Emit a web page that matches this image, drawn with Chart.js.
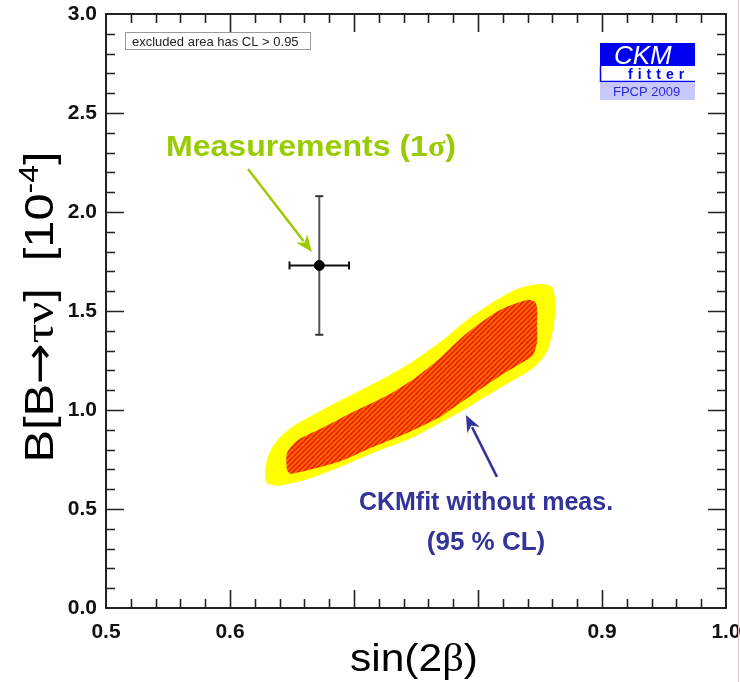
<!DOCTYPE html>
<html>
<head>
<meta charset="utf-8">
<script src="https://cdn.jsdelivr.net/npm/chart.js@4/dist/chart.umd.min.js"></script>
<style>
  body { margin: 0; background: #fff; }
  #wrap { width: 740px; height: 682px; }
</style>
</head>
<body>
<div id="wrap"><canvas id="chart" width="740" height="682"></canvas></div>
<script>
// measured point with its 1 sigma errors
const measX = 0.672, measXErr = 0.024;
const measY = 1.73, measYErr = 0.35;

// outer (yellow) contour of the fit
const outerX = [0.6387, 0.6298, 0.6282, 0.6306, 0.6363, 0.6500, 0.6742, 0.7008, 0.7274, 0.7492,
                0.7694, 0.7911, 0.8121, 0.8315, 0.8500, 0.8597, 0.8621, 0.8621, 0.8605, 0.8556,
                0.8444, 0.8177, 0.8016, 0.7911, 0.7694, 0.7427, 0.7153, 0.6887, 0.6605];
const outerY = [0.616, 0.631, 0.697, 0.763, 0.833, 0.914, 1.000, 1.086, 1.172, 1.253,
                1.343, 1.455, 1.545, 1.611, 1.636, 1.621, 1.566, 1.480, 1.404, 1.293,
                1.212, 1.111, 1.051, 1.010, 0.934, 0.848, 0.783, 0.712, 0.646];

// inner (hatched) contour
const innerX = [0.6484, 0.6460, 0.6460, 0.6548, 0.6742, 0.7008, 0.7274, 0.7492, 0.7694, 0.7911,
                0.8177, 0.8395, 0.8460, 0.8476, 0.8476, 0.8476, 0.8444, 0.8363, 0.8177, 0.7855,
                0.7694, 0.7427, 0.7153, 0.6871, 0.6605];
const innerY = [0.677, 0.697, 0.783, 0.848, 0.909, 0.995, 1.076, 1.162, 1.263, 1.389,
                1.505, 1.556, 1.545, 1.515, 1.429, 1.343, 1.278, 1.242, 1.172, 1.035,
                0.965, 0.884, 0.813, 0.737, 0.692];

const xTickValues = [0.5, 0.6, 0.7, 0.8, 0.9, 1.0];
const xTickLabels = ['0.5', '0.6', '', '', '0.9', '1.0'];
const yTickValues = [0, 0.5, 1.0, 1.5, 2.0, 2.5, 3.0];
const yTickLabels = ['0.0', '0.5', '1.0', '1.5', '2.0', '2.5', '3.0'];

function closedLoop(xs, ys) {
  const pts = xs.map((x, i) => ({x: x, y: ys[i]}));
  pts.push(pts[0]);
  return pts;
}

const ctx = document.getElementById('chart').getContext('2d');

// orange/red hatching for the inner region
function hatchPattern() {
  const c = document.createElement('canvas');
  c.width = 5; c.height = 5;
  const g = c.getContext('2d');
  g.fillStyle = '#ff6a00';
  g.fillRect(0, 0, 5, 5);
  g.strokeStyle = '#ee2000';
  g.lineWidth = 1.6;
  g.beginPath();
  g.moveTo(-1, 6); g.lineTo(6, -1);
  g.moveTo(-1, 1); g.lineTo(1, -1);
  g.moveTo(4, 6); g.lineTo(6, 4);
  g.stroke();
  return ctx.createPattern(c, 'repeat');
}

function arrow(c, x0, y0, x1, y1, color) {
  const ang = Math.atan2(y1 - y0, x1 - x0);
  const L = 17, W = 7;
  c.save();
  c.strokeStyle = color; c.fillStyle = color; c.lineWidth = 2.5;
  c.beginPath();
  c.moveTo(x0, y0);
  c.lineTo(x1 - Math.cos(ang) * L * 0.8, y1 - Math.sin(ang) * L * 0.8);
  c.stroke();
  c.beginPath();
  c.moveTo(x1, y1);
  c.lineTo(x1 - Math.cos(ang) * L - Math.sin(ang) * W, y1 - Math.sin(ang) * L + Math.cos(ang) * W);
  c.lineTo(x1 - Math.cos(ang) * L * 0.7, y1 - Math.sin(ang) * L * 0.7);
  c.lineTo(x1 - Math.cos(ang) * L + Math.sin(ang) * W, y1 - Math.sin(ang) * L - Math.cos(ang) * W);
  c.closePath();
  c.fill();
  c.restore();
}

// draws a run of [text, font, raise] pieces centred on the origin,
// stretched sideways to a given width when one is passed
function drawRun(c, parts, width) {
  let total = 0;
  parts.forEach(p => { c.font = p[1]; total += c.measureText(p[0]).width; });
  c.save();
  if (width) c.scale(width / total, 1);
  let pos = -total / 2;
  parts.forEach(p => {
    c.font = p[1];
    c.fillText(p[0], pos, -(p[2] || 0));
    pos += c.measureText(p[0]).width;
  });
  c.restore();
}

const decor = {
  id: 'decor',
  afterDraw(chart) {
    const c = chart.ctx;
    const a = chart.chartArea;
    const sx = chart.scales.x, sy = chart.scales.y;
    c.save();

    // frame and inward ticks on all four sides
    c.strokeStyle = '#222';
    c.lineWidth = 2;
    c.strokeRect(a.left, a.top, a.right - a.left, a.bottom - a.top);
    c.lineWidth = 1.6;
    c.beginPath();
    for (let i = 1; i < 25; i++) {
      const px = Math.round(sx.getPixelForValue(0.5 + i * 0.02)) + 0.5;
      const len = i % 5 === 0 ? 18 : 9;
      c.moveTo(px, a.bottom); c.lineTo(px, a.bottom - len);
      c.moveTo(px, a.top); c.lineTo(px, a.top + len);
    }
    for (let i = 1; i < 30; i++) {
      const py = Math.round(sy.getPixelForValue(i * 0.1)) + 0.5;
      const len = i % 5 === 0 ? 18 : 9;
      c.moveTo(a.left, py); c.lineTo(a.left + len, py);
      c.moveTo(a.right, py); c.lineTo(a.right - len, py);
    }
    c.stroke();

    // CL note
    c.fillStyle = '#fff';
    c.fillRect(125, 32, 185, 17);
    c.strokeStyle = '#999';
    c.lineWidth = 1;
    c.strokeRect(125.5, 32.5, 185, 17);
    c.fillStyle = '#222';
    c.font = '13px "Liberation Sans", Arial, sans-serif';
    c.textBaseline = 'alphabetic';
    c.textAlign = 'left';
    c.fillText('excluded area has CL > 0.95', 132, 45.5);

    // CKMfitter badge
    c.fillStyle = '#0000f0';
    c.fillRect(600, 43, 95, 23);
    c.fillStyle = '#fff';
    c.font = 'italic 26px "Liberation Sans", Arial, sans-serif';
    c.fillText('CKM', 614, 64);
    c.strokeStyle = '#0000f0';
    c.lineWidth = 1.5;
    c.beginPath();
    c.moveTo(600.5, 66); c.lineTo(600.5, 81.5); c.lineTo(695, 81.5);
    c.stroke();
    c.fillStyle = '#0000f0';
    c.font = 'bold 14px "Liberation Sans", Arial, sans-serif';
    let fx = 628;
    for (const ch of 'fitter') { c.fillText(ch, fx, 79); fx += c.measureText(ch).width + 5; }
    c.fillStyle = '#c8c8fa';
    c.fillRect(600, 83, 95, 17);
    c.fillStyle = '#2828dc';
    c.font = '13px "Liberation Sans", Arial, sans-serif';
    c.fillText('FPCP 2009', 613, 96);

    // labels with arrows
    const green = '#99cc00', blue = '#333399';
    arrow(c, sx.getPixelForValue(0.6145), sy.getPixelForValue(2.217),
             sx.getPixelForValue(0.6661), sy.getPixelForValue(1.798), green);
    arrow(c, sx.getPixelForValue(0.8153), sy.getPixelForValue(0.662),
             sx.getPixelForValue(0.7903), sy.getPixelForValue(0.975), blue);
    c.textAlign = 'left';
    c.fillStyle = green;
    c.save();
    c.translate(311, 156);
    drawRun(c, [['Measurements (1', 'bold 30px "Liberation Sans", Arial, sans-serif'],
                ['\u03c3', 'bold 30px "Liberation Serif", serif'],
                [')', 'bold 30px "Liberation Sans", Arial, sans-serif']], 290);
    c.restore();
    c.fillStyle = blue;
    c.textAlign = 'center';
    c.font = 'bold 25px "Liberation Sans", Arial, sans-serif';
    c.fillText('CKMfit without meas.', 486, 510);
    c.font = 'bold 26px "Liberation Sans", Arial, sans-serif';
    c.fillText('(95 % CL)', 486, 550);

    // axis titles
    c.fillStyle = '#000';
    c.textAlign = 'left';
    const sans = '41px "Liberation Sans", Arial, sans-serif';
    const serif = '41px "Liberation Serif", serif';
    c.save();
    c.translate(414, 671);
    drawRun(c, [['sin(2', '39px "Liberation Sans", Arial, sans-serif'],
                ['\u03b2', '39px "Liberation Serif", serif'],
                [')', '39px "Liberation Sans", Arial, sans-serif']], 128);
    c.restore();
    c.save();
    c.translate(53, 307);
    c.rotate(-Math.PI / 2);
    drawRun(c, [['B[B', sans], ['\u2192', '41px "DejaVu Sans", sans-serif'], ['\u03c4\u03bd', serif],
                [']  [10', sans], ['-4', '27px "Liberation Sans", Arial, sans-serif', 15], [']', sans]], 311);
    c.restore();

    // thin rule at the right edge
    c.strokeStyle = '#f3c4c4';
    c.lineWidth = 1;
    c.beginPath();
    c.moveTo(738.5, 0); c.lineTo(738.5, 682);
    c.stroke();
    c.restore();
  }
};

function noPadding(s) {
  s.paddingLeft = 0; s.paddingRight = 0; s.paddingTop = 0; s.paddingBottom = 0;
}

new Chart(ctx, {
  type: 'scatter',
  data: {
    datasets: [
      {
        data: [{x: measX, y: measY}],
        pointRadius: 5,
        pointBackgroundColor: '#000',
        pointBorderColor: '#000'
      },
      {
        data: [{x: measX - measXErr, y: measY}, {x: measX + measXErr, y: measY}],
        showLine: true,
        borderColor: '#111',
        borderWidth: 2,
        pointStyle: 'line',
        rotation: 90,
        pointRadius: 4,
        pointBorderColor: '#111',
        pointBorderWidth: 2
      },
      {
        data: [{x: measX, y: measY - measYErr}, {x: measX, y: measY + measYErr}],
        showLine: true,
        borderColor: '#555',
        borderWidth: 2,
        pointStyle: 'line',
        rotation: 0,
        pointRadius: 4,
        pointBorderColor: '#333',
        pointBorderWidth: 2
      },
      {
        data: closedLoop(innerX, innerY),
        showLine: true,
        fill: 'shape',
        backgroundColor: hatchPattern(),
        borderWidth: 0,
        pointRadius: 0,
        tension: 0.25
      },
      {
        data: closedLoop(outerX, outerY),
        showLine: true,
        fill: 'shape',
        backgroundColor: '#ffff00',
        borderWidth: 0,
        pointRadius: 0,
        tension: 0.25
      }
    ]
  },
  options: {
    responsive: false,
    animation: false,
    layout: { padding: { top: 14, right: 14, left: 0, bottom: 0 } },
    plugins: { legend: { display: false }, tooltip: { enabled: false } },
    scales: {
      x: {
        type: 'linear',
        min: 0.5, max: 1.0,
        grid: { display: false, drawTicks: false },
        border: { display: false },
        afterBuildTicks: s => { s.ticks = xTickValues.map(v => ({value: v})); },
        afterFit: s => { s.height = 74; noPadding(s); },
        ticks: {
          padding: 12,
          maxRotation: 0,
          autoSkip: false,
          color: '#111',
          font: { family: '"Liberation Sans", Arial, sans-serif', size: 21, weight: 'bold' },
          callback: (v, i) => xTickLabels[i]
        }
      },
      y: {
        type: 'linear',
        min: 0, max: 3.0,
        grid: { display: false, drawTicks: false },
        border: { display: false },
        afterBuildTicks: s => { s.ticks = yTickValues.map(v => ({value: v})); },
        afterFit: s => { s.width = 106; noPadding(s); },
        ticks: {
          padding: 9,
          autoSkip: false,
          color: '#111',
          font: { family: '"Liberation Sans", Arial, sans-serif', size: 21, weight: 'bold' },
          callback: (v, i) => yTickLabels[i]
        }
      }
    }
  },
  plugins: [decor]
});
</script>
</body>
</html>
